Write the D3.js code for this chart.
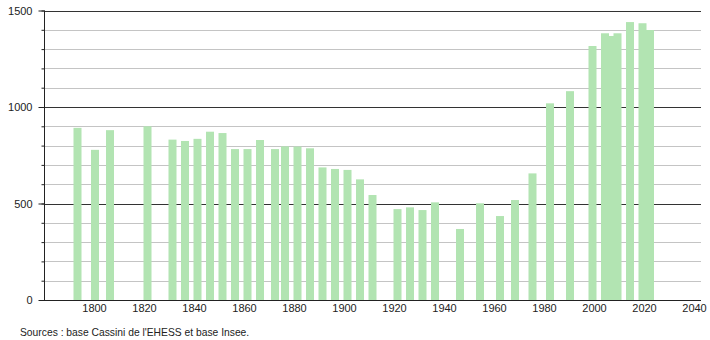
<!DOCTYPE html>
<html>
<head>
<meta charset="utf-8">
<script src="https://cdn.jsdelivr.net/npm/d3@7"></script>
<style>
  body{margin:0;background:#fff;}
  svg{font-family:"Liberation Sans",Arial,sans-serif;}
</style>
</head>
<body>
<div id="chart"></div>
<script>
const years=[1793,1800,1806,1821,1831,1836,1841,1846,1851,1856,1861,1866,1872,1876,1881,1886,1891,1896,1901,1906,1911,1921,1926,1931,1936,1946,1954,1962,1968,1975,1982,1990,1999,2004,2006,2009,2014,2019,2022];
const population=[892,778,880,900,831,824,835,872,865,782,782,829,782,796,795,786,687,679,674,625,544,471,480,466,506,368,501,435,518,656,1019,1082,1316,1382,1368,1382,1440,1434,1399];
const xTickYears=[1800,1820,1840,1860,1880,1900,1920,1940,1960,1980,2000,2020,2040];
const yLabelTicks=[0,500,1000,1500];
const yMinorTicks=d3.range(0,1501,100);
const sourceText="Sources : base Cassini de l'EHESS et base Insee.";

const w=710, h=340;
const padLeft=44, padRight=701, padTop=10.5, padBottom=300;
const barW=8;

const dataset=years.map((y,i)=>[y,population[i]]);

const xScale=d3.scaleLinear().domain([1780,2040]).range([padLeft,694]);
const yScale=d3.scaleLinear().domain([0,1500]).range([padBottom,padTop]);

const svg=d3.select("#chart").append("svg").attr("width",w).attr("height",h);

// grid
svg.append("g")
   .selectAll("line")
   .data(yMinorTicks.filter(v=>v>0))
   .enter()
   .append("line")
   .attr("x1",padLeft).attr("x2",padRight)
   .attr("y1",d=>Math.round(yScale(d))+0.5)
   .attr("y2",d=>Math.round(yScale(d))+0.5)
   .attr("stroke",d=>d%500===0?"#333":"#c4c4c4")
   .attr("stroke-width",1);

// bars
svg.append("g")
   .selectAll("rect")
   .data(dataset)
   .enter()
   .append("rect")
   .attr("x",d=>xScale(d[0])+1-barW/2)
   .attr("y",d=>yScale(d[1]))
   .attr("width",barW)
   .attr("height",d=>padBottom-yScale(d[1]))
   .attr("fill","#b2e4b2");

// y axis: minor ticks
svg.append("g")
   .attr("transform",`translate(${padLeft+0.5},0)`)
   .call(d3.axisLeft(yScale).tickValues(yMinorTicks).tickSize(3).tickFormat(""))
   .call(g=>g.select(".domain").remove())
   .call(g=>g.selectAll("line").attr("stroke","#222"));

// y axis: labels
svg.append("g")
   .attr("transform",`translate(${padLeft+0.5},0)`)
   .call(d3.axisLeft(yScale).tickValues(yLabelTicks).tickSize(6).tickPadding(6).tickFormat(d3.format("d")))
   .call(g=>g.select(".domain").remove())
   .call(g=>g.selectAll("line").attr("stroke","#222"))
   .call(g=>g.selectAll("text").attr("font-size",11).attr("fill","#222").attr("font-family","'Liberation Sans',Arial,sans-serif"));

svg.append("line")
   .attr("x1",padLeft+0.5).attr("x2",padLeft+0.5)
   .attr("y1",padTop).attr("y2",padBottom+0.5)
   .attr("stroke","#222");

// x axis
svg.append("g")
   .attr("transform",`translate(0,${padBottom})`)
   .call(d3.axisBottom(xScale).tickValues(xTickYears).tickSize(0).tickPadding(4).tickFormat(d3.format("d")))
   .call(g=>g.select(".domain").remove())
   .call(g=>g.selectAll("text").attr("font-size",11).attr("fill","#222").attr("font-family","'Liberation Sans',Arial,sans-serif"));

svg.append("line")
   .attr("x1",padLeft).attr("x2",padRight)
   .attr("y1",padBottom+0.5).attr("y2",padBottom+0.5)
   .attr("stroke","#222");

svg.append("text")
   .text(sourceText)
   .attr("x",20)
   .attr("y",335.5)
   .attr("font-size",10.3)
   .attr("fill","#222");
</script>
</body>
</html>
